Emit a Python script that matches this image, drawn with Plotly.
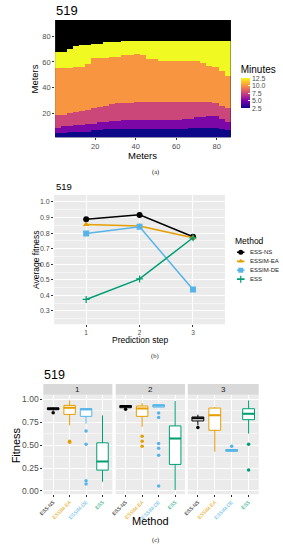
import plotly.graph_objects as go

W, H = 283, 550
def px(x):
    return x / W
def py(y):
    return 1 - y / H

FONT = "Liberation Sans"
TICK_COLOR = "#4D4D4D"

# ---------------- (a) arrival-time map ----------------
col_x = [1.5 + 3 * i for i in range(29)]          # column centres (m)
row_y = [0.5 + i for i in range(93)]              # row centres (m)
band_minutes = [2.5, 5.0, 7.5, 10.0, 12.5]
# upper edge (m) of each band, per column
top_band_2_5 = [5.5, 5.5, 5.8, 6, 6.2, 6.5, 7, 7.5, 7.8, 8, 8.2, 8.2, 8.2, 8.2, 8.2,
                8.2, 8.2, 8.2, 8.2, 8.2, 8.3, 8.5, 9, 9.2, 9.4, 9.4, 9, 8, 7]
top_band_5_0 = [9.5, 10, 10.5, 11, 11.5, 12, 12.5, 13, 13.5, 14, 14.3, 14.6, 15, 15, 15,
                15, 15, 15, 15, 15, 15.5, 16, 16.5, 17, 17.5, 18, 18.5, 16, 13]
top_band_7_5 = [18.8, 19.5, 20.5, 21.5, 22.5, 23.5, 24.5, 25.5, 26.5, 27.3, 28, 28.5, 28.5,
                28.7, 28.7, 28.7, 28.7, 28.7, 28.7, 28.7, 28.7, 28.7, 28.7, 28.7, 29, 29.5,
                28, 26, 24]
top_band_10_0 = [55, 55, 55.5, 56, 56.5, 58, 62.6, 63, 63.5, 64, 64.5, 65, 65.5, 66, 65,
                 62.5, 62, 61.5, 61.5, 61.5, 61.5, 61.5, 61.5, 61.2, 59.5, 57.5, 56, 53.5, 49.5]
top_band_12_5 = [67.8, 68.5, 70, 72, 73, 73.5, 74, 74.5, 75, 75.3, 75.5, 75.7, 75.8, 76, 76,
                 76, 76, 76, 76, 76, 76, 76, 76, 76, 76, 76, 76, 76, 76]

z = []
for yv in row_y:
    row = []
    for j in range(len(col_x)):
        tops = [top_band_2_5[j], top_band_5_0[j], top_band_7_5[j],
                top_band_10_0[j], top_band_12_5[j]]
        val = None
        for t, m in zip(tops, band_minutes):
            if yv < t:
                val = m
                break
        row.append(val)
    z.append(row)

# ---------------- (b) average fitness ----------------
steps = [1, 2, 3]
methods = ["ESS-NS", "ESSIM-EA", "ESSIM-DE", "ESS"]
method_colors = ["#000000", "#E69F00", "#56B4E9", "#009E73"]
method_symbols = ["circle", "triangle-up", "square", "cross-thin"]
avg_ess_ns = [0.889, 0.917, 0.777]
avg_essim_ea = [0.855, 0.845, 0.770]
avg_essim_de = [0.798, 0.840, 0.438]
avg_ess = [0.374, 0.506, 0.770]
avg_series = [avg_ess_ns, avg_essim_ea, avg_essim_de, avg_ess]

# ---------------- (c) fitness distributions ----------------
ess_ns_q1 = [0.884, 0.906, 0.762]
ess_ns_med = [0.895, 0.920, 0.790]
ess_ns_q3 = [0.905, 0.930, 0.805]
ess_ns_lo = [0.875, 0.900, 0.714]
ess_ns_hi = [0.910, 0.935, 0.830]
ess_ns_out = [[0.850], [0.888], [0.690]]

essim_ea_q1 = [0.833, 0.812, 0.660]
essim_ea_med = [0.906, 0.898, 0.823]
essim_ea_q3 = [0.931, 0.924, 0.902]
essim_ea_lo = [0.714, 0.697, 0.426]
essim_ea_hi = [0.985, 0.957, 0.913]
essim_ea_out = [[0.540, 0.530], [0.595, 0.541, 0.487], []]

essim_de_q1 = [0.812, 0.913, 0.433]
essim_de_med = [0.890, 0.930, 0.440]
essim_de_q3 = [0.895, 0.938, 0.451]
essim_de_lo = [0.733, 0.913, 0.433]
essim_de_hi = [0.895, 0.938, 0.451]
essim_de_out = [[0.653, 0.509, 0.112, 0.076], [0.848, 0.800, 0.516, 0.465, 0.390, 0.054], [0.487]]

ess_q1 = [0.227, 0.289, 0.776]
ess_med = [0.321, 0.570, 0.841]
ess_q3 = [0.524, 0.708, 0.895]
ess_lo = [0.100, 0.011, 0.624]
ess_hi = [0.823, 0.978, 0.985]
ess_out = [[], [], [0.509, 0.227]]

box_stats = [
    (ess_ns_q1, ess_ns_med, ess_ns_q3, ess_ns_lo, ess_ns_hi, ess_ns_out),
    (essim_ea_q1, essim_ea_med, essim_ea_q3, essim_ea_lo, essim_ea_hi, essim_ea_out),
    (essim_de_q1, essim_de_med, essim_de_q3, essim_de_lo, essim_de_hi, essim_de_out),
    (ess_q1, ess_med, ess_q3, ess_lo, ess_hi, ess_out),
]

fig = go.Figure()

# (a) heatmap
fig.add_trace(go.Heatmap(
    x=col_x, y=row_y, z=z, colorscale="Plasma", zmin=2.5, zmax=12.5,
    xaxis="x", yaxis="y", hoverinfo="skip",
    colorbar=dict(
        x=px(240), xanchor="left", y=py(108), yanchor="bottom",
        len=46, lenmode="pixels", thickness=9, xpad=0, ypad=0,
        outlinewidth=0,
        title=dict(text="Minutes", side="top", font=dict(size=10, family=FONT, color="#000")),
        tickvals=[2.5, 5, 7.5, 10, 12.5], ticktext=["2.5", "5.0", "7.5", "10.0", "12.5"],
        ticks="inside", ticklen=2, tickcolor="white",
        tickfont=dict(size=7, family=FONT, color=TICK_COLOR),
    ),
))

# (b) lines
for name, vals, col, sym in zip(methods, avg_series, method_colors, method_symbols):
    is_cross = sym == "cross-thin"
    fig.add_trace(go.Scatter(
        x=steps, y=vals, mode="lines+markers", name=name,
        line=dict(color=col, width=1.5),
        marker=dict(symbol=sym, size=5 if is_cross else 6, color=col,
                    line=dict(color=col, width=1.2 if is_cross else 0)),
        xaxis="x2", yaxis="y2", showlegend=False, hoverinfo="skip",
    ))

# (b) manual legend keys
for i, (name, col, sym) in enumerate(zip(methods, method_colors, method_symbols)):
    is_cross = sym == "cross-thin"
    fig.add_trace(go.Scatter(
        x=[-1, 0, 1], y=[i, i, i], mode="lines",
        line=dict(color=col, width=1.5), xaxis="x6", yaxis="y6",
        showlegend=False, hoverinfo="skip",
    ))
    fig.add_trace(go.Scatter(
        x=[0], y=[i], mode="markers",
        marker=dict(symbol=sym, size=5, color=col,
                    line=dict(color=col, width=1.2 if is_cross else 0)),
        xaxis="x6", yaxis="y6", showlegend=False, hoverinfo="skip", cliponaxis=False,
    ))

# (c) boxplots
facet_axes = [("x3", "y3"), ("x4", "y4"), ("x5", "y5")]
for s, (xa, ya) in enumerate(facet_axes):
    for m, (stats, col) in enumerate(zip(box_stats, method_colors)):
        q1, med, q3, lo, hi, out = stats
        pos = m + 1
        fig.add_trace(go.Box(
            x=[pos], q1=[q1[s]], median=[med[s]], q3=[q3[s]],
            lowerfence=[lo[s]], upperfence=[hi[s]],
            width=0.7, whiskerwidth=0, fillcolor="white",
            line=dict(color=col, width=1), boxpoints=False,
            xaxis=xa, yaxis=ya, showlegend=False, hoverinfo="skip",
        ))
        fig.add_trace(go.Scatter(
            x=[pos - 0.35, pos + 0.35], y=[med[s], med[s]], mode="lines",
            line=dict(color=col, width=2), xaxis=xa, yaxis=ya,
            showlegend=False, hoverinfo="skip",
        ))
        if out[s]:
            fig.add_trace(go.Scatter(
                x=[pos] * len(out[s]), y=out[s], mode="markers",
                marker=dict(color=col, size=3.5), xaxis=xa, yaxis=ya,
                showlegend=False, hoverinfo="skip",
            ))

tickfont = dict(size=7.5, family=FONT, color=TICK_COLOR)
common_ax = dict(ticks="outside", ticklen=2, tickcolor="#333333", tickwidth=1,
                 zeroline=False, showline=False, tickfont=tickfont)

facet_x = [(39, 109.3), (112.7, 183.3), (186, 258.3)]
colored_labels = ['<span style="color:%s">%s</span>' % (c, n) for n, c in zip(methods, method_colors)]

layout_axes = dict(
    xaxis=dict(domain=[px(51), px(230)], range=[0.2, 87], anchor="y",
               tickvals=[20, 40, 60, 80], showgrid=False, **common_ax),
    yaxis=dict(domain=[py(137), py(19)], range=[1.8, 92.5], anchor="x",
               tickvals=[20, 40, 60, 80], showgrid=False, **common_ax),
    xaxis2=dict(domain=[px(50), px(224)], range=[0.4, 3.6], anchor="y2",
                tickvals=steps, showgrid=True, gridcolor="white", gridwidth=1,
                **{**common_ax, "tickfont": dict(size=6.5, family=FONT, color=TICK_COLOR)}),
    yaxis2=dict(domain=[py(325), py(195)], range=[0.215, 1.045], anchor="x2",
                tickvals=[0.3, 0.4, 0.5, 0.6, 0.7, 0.8, 0.9, 1.0],
                ticktext=["0.3", "0.4", "0.5", "0.6", "0.7", "0.8", "0.9", "1.0"],
                showgrid=True, gridcolor="white", gridwidth=1,
                minor=dict(tickvals=[0.25, 0.35, 0.45, 0.55, 0.65, 0.75, 0.85, 0.95, 1.05],
                           showgrid=True, gridcolor="white", gridwidth=0.5, ticks=""),
                **{**common_ax, "tickfont": dict(size=7, family=FONT, color=TICK_COLOR)}),
    xaxis6=dict(domain=[px(236), px(244)], range=[-1, 1], visible=False, anchor="y6"),
    yaxis6=dict(domain=[py(284.2), py(248.2)], range=[3.5, -0.5], visible=False, anchor="x6"),
)
for k, ((x0, x1), (xa, ya)) in enumerate(zip(facet_x, facet_axes)):
    n = xa[1:]
    layout_axes["xaxis" + n] = dict(
        domain=[px(x0), px(x1)], range=[0.4, 4.6], anchor=ya,
        tickvals=[1, 2, 3, 4], ticktext=colored_labels, tickangle=-45,
        showgrid=True, gridcolor="white", gridwidth=1,
        **{**common_ax, "tickfont": dict(size=5, family=FONT, color=TICK_COLOR)})
    layout_axes["yaxis" + n] = dict(
        domain=[py(496), py(396)], range=[-0.036, 1.046], anchor=xa,
        tickvals=[0, 0.25, 0.5, 0.75, 1.0],
        ticktext=["0.00", "0.25", "0.50", "0.75", "1.00"],
        showticklabels=(k == 0), showgrid=True, gridcolor="white", gridwidth=1,
        minor=dict(tickvals=[0.125, 0.375, 0.625, 0.875],
                   showgrid=True, gridcolor="white", gridwidth=0.5, ticks=""),
        **{**common_ax, "tickfont": dict(size=8.5, family=FONT, color=TICK_COLOR),
           "ticks": "outside" if k == 0 else ""})

shapes = [dict(type="rect", xref="x domain", yref="y domain", x0=0, x1=1, y0=0, y1=1,
               fillcolor="black", line=dict(width=0), layer="below")]
for xa, ya in [("x2", "y2")] + facet_axes:
    shapes.append(dict(type="rect", xref=xa + " domain", yref=ya + " domain",
                       x0=0, x1=1, y0=0, y1=1, fillcolor="#EBEBEB",
                       line=dict(width=0), layer="below"))
for x0, x1 in facet_x:
    shapes.append(dict(type="rect", xref="paper", yref="paper", x0=px(x0), x1=px(x1),
                       y0=py(396), y1=py(385), fillcolor="#D9D9D9", line=dict(width=0)))

def ann(text, x, y, size, xanchor="center", angle=0, color="#000000", family=FONT):
    return dict(text=text, x=px(x), y=py(y), xref="paper", yref="paper",
                xanchor=xanchor, yanchor="middle", showarrow=False, textangle=angle,
                font=dict(size=size, family=family, color=color))

annotations = [
    ann("519", 49.5, 9.5, 13, "left"),
    ann("Meters", 140, 155, 9.5),
    ann("Meters", 30.5, 78, 9.5, angle=-90),
    ann("(a)", 153, 172, 6.5, family="Liberation Serif", color="#222"),
    ann("519", 49.5, 187, 9.5, "left"),
    ann("Average fitness", 31, 260, 8.5, angle=-90),
    ann("Prediction step", 137, 341, 8.5),
    ann("(b)", 153, 357, 6.5, family="Liberation Serif", color="#222"),
    ann("Method", 232, 241, 8.5, "left"),
    ann("519", 37.5, 376, 12.5, "left"),
    ann("Fitness", 11, 447, 11, angle=-90),
    ann("Method", 148, 523, 11),
    ann("(c)", 153, 542, 6.5, family="Liberation Serif", color="#222"),
]
for i, name in enumerate(methods):
    annotations.append(ann(name, 247.5, 252.7 + 9 * i, 6, "left", color="#1A1A1A"))
for lbl, (x0, x1) in zip(["1", "2", "3"], facet_x):
    annotations.append(ann(lbl, (x0 + x1) / 2, 390.5, 8, color="#1A1A1A"))

fig.update_layout(
    width=W, height=H, autosize=False,
    margin=dict(l=0, r=0, t=0, b=0, pad=0),
    paper_bgcolor="white", plot_bgcolor="rgba(0,0,0,0)",
    showlegend=False, font=dict(family=FONT),
    shapes=shapes, annotations=annotations,
    boxmode="overlay",
    **layout_axes,
)

fig.write_html(
    "out.html",
    config={"displayModeBar": False, "staticPlot": True},
    post_script="document.body.style.margin='0';document.body.style.padding='0';"
                "document.body.style.overflow='hidden';",
)
